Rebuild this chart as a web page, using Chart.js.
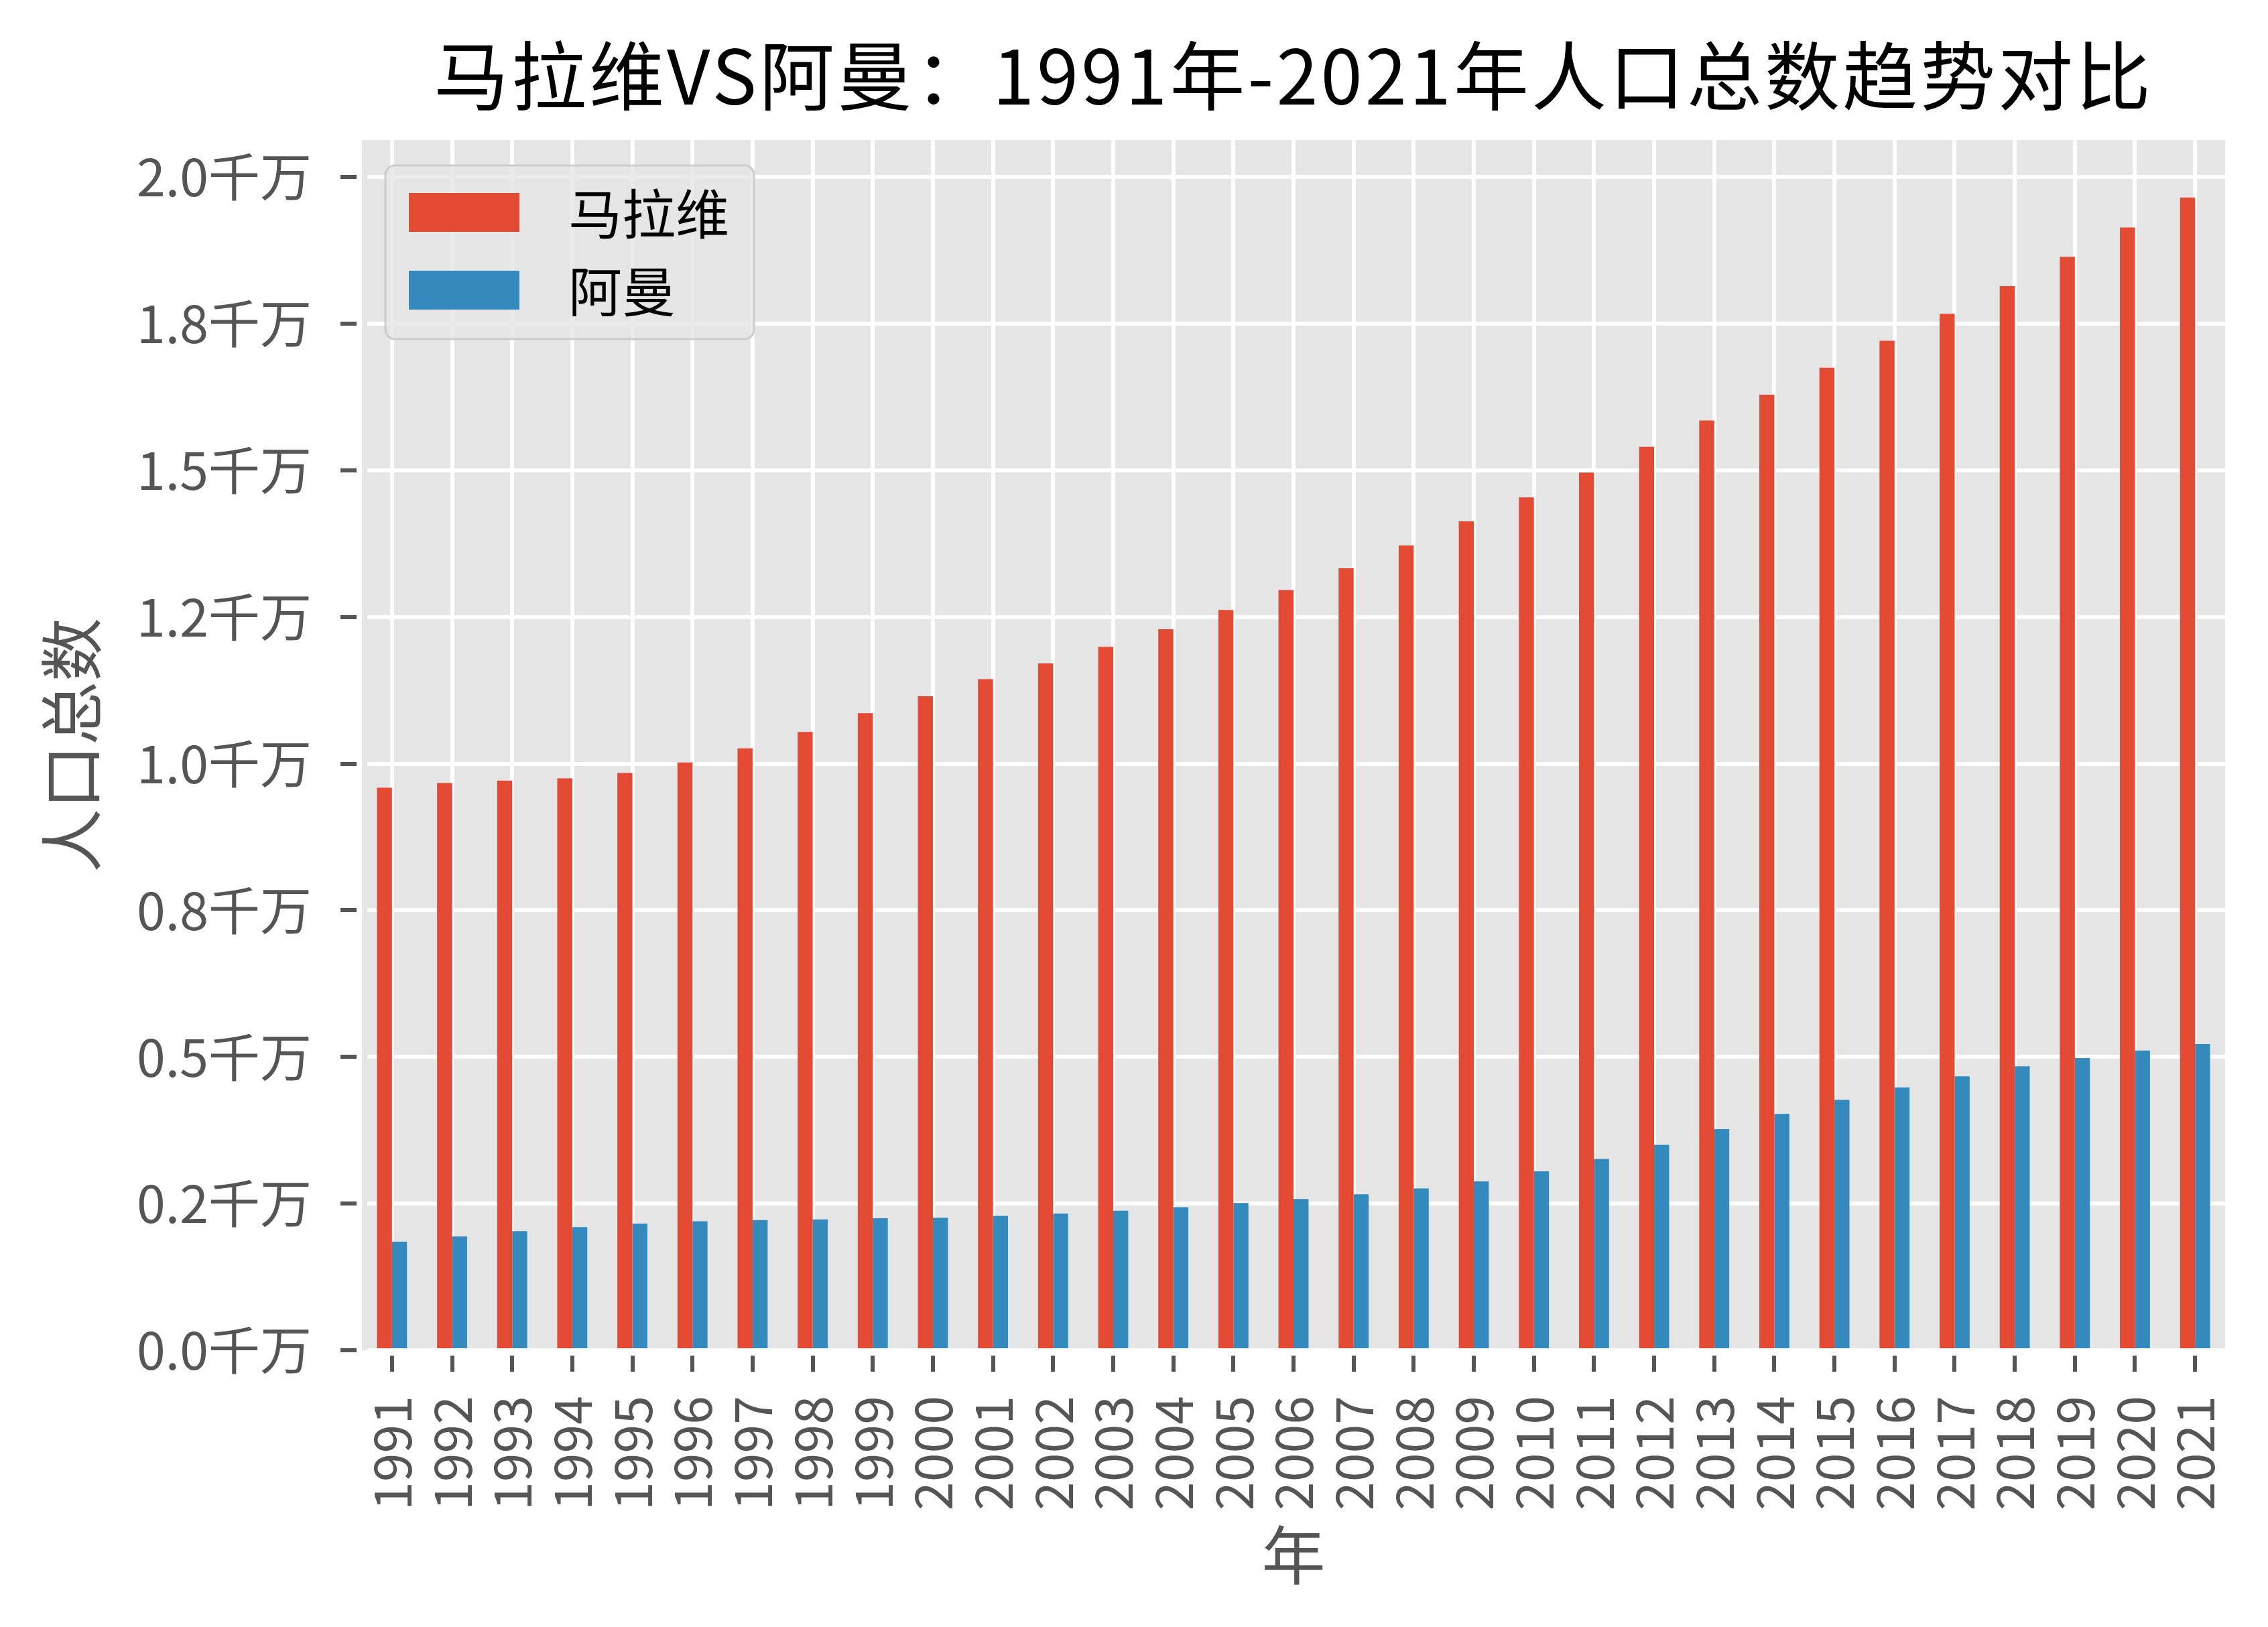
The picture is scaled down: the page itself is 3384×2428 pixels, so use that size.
<!DOCTYPE html>
<html>
<head>
<meta charset="utf-8">
<script src="https://cdn.jsdelivr.net/npm/chart.js@4.4.1/dist/chart.umd.min.js"></script>
<style>
  html, body { margin: 0; padding: 0; background: #ffffff; }
  canvas { display: block; }
</style>
</head>
<body>
<canvas id="c" width="3384" height="2428"></canvas>
<script>
  // data, unit: 千万
  var years = ['1991','1992','1993','1994','1995','1996','1997','1998','1999','2000',
               '2001','2002','2003','2004','2005','2006','2007','2008','2009','2010',
               '2011','2012','2013','2014','2015','2016','2017','2018','2019','2020','2021'];

  var malawi = [0.959, 0.967, 0.971, 0.975, 0.984, 1.002, 1.026, 1.054, 1.086, 1.115,
                1.144, 1.171, 1.199, 1.229, 1.262, 1.296, 1.333, 1.372, 1.413, 1.454,
                1.496, 1.540, 1.585, 1.629, 1.675, 1.721, 1.767, 1.814, 1.864, 1.914, 1.965];

  var oman = [0.185, 0.194, 0.203, 0.210, 0.216, 0.220, 0.222, 0.223, 0.225, 0.226,
              0.229, 0.233, 0.238, 0.244, 0.251, 0.258, 0.266, 0.276, 0.288, 0.305,
              0.326, 0.350, 0.377, 0.403, 0.427, 0.448, 0.467, 0.484, 0.498, 0.511, 0.522];

  var seriesNames = ['马拉维', '阿曼'];
  var yTickLabels = ['0.0千万','0.2千万','0.5千万','0.8千万','1.0千万','1.2千万','1.5千万','1.8千万','2.0千万'];
  var titleText = '马拉维VS阿曼：1991年-2021年人口总数趋势对比';

  var FONT = '"Noto Sans CJK SC", "Noto Sans", sans-serif';

  //grey panel behind the bars
  var panelBg = {
    id: 'panelBg',
    beforeDraw: function(chart) {
      var a = chart.chartArea, ctx = chart.ctx;
      ctx.save();
      ctx.fillStyle = '#E5E5E5';
      ctx.fillRect(a.left, a.top, a.right - a.left, a.bottom - a.top);
      ctx.restore();
    }
  };

  //title centred over the plot area + legend box inside it
  var extras = {
    id: 'extras',
    afterDraw: function(chart) {
      var a = chart.chartArea, ctx = chart.ctx;
      ctx.save();
      ctx.fillStyle = '#000000';
      ctx.font = '112px ' + FONT;
      ctx.letterSpacing = '4px';
      ctx.textAlign = 'center';
      ctx.textBaseline = 'middle';
      ctx.fillText(titleText, (a.left + a.right) / 2, 113);
      ctx.letterSpacing = '0px';

      // legend
      var x = a.left + 35, y = a.top + 38, w = 550, h = 259, r = 14;
      ctx.beginPath();
      ctx.moveTo(x + r, y);
      ctx.arcTo(x + w, y, x + w, y + h, r);
      ctx.arcTo(x + w, y + h, x, y + h, r);
      ctx.arcTo(x, y + h, x, y, r);
      ctx.arcTo(x, y, x + w, y, r);
      ctx.closePath();
      ctx.fillStyle = 'rgba(229,229,229,0.8)';
      ctx.fill();
      ctx.lineWidth = 3;
      ctx.strokeStyle = '#cccccc';
      ctx.stroke();

      var ds = chart.data.datasets;
      ctx.font = '80px ' + FONT;
      ctx.textAlign = 'left';
      for (var i = 0; i < ds.length; i++) {
        var py = y + 41 + i * 116;
        ctx.fillStyle = ds[i].backgroundColor;
        ctx.fillRect(x + 35, py, 165, 58);
        ctx.fillStyle = '#000000';
        ctx.fillText(ds[i].label, x + 273, py + 31);
      }
      ctx.restore();
    }
  };

  document.addEventListener('DOMContentLoaded', function() {
    var ctx = document.getElementById('c').getContext('2d');
    new Chart(ctx, {
      type: 'bar',
      data: {
        labels: years,
        datasets: [{
          label: seriesNames[0],
          data: malawi,
          backgroundColor: '#E24A33',
          borderWidth: 0
        }, {
          label: seriesNames[1],
          data: oman,
          backgroundColor: '#348ABD',
          borderWidth: 0
        }]
      },
      options: {
        responsive: false,
        animation: false,
        devicePixelRatio: 1,
        categoryPercentage: 0.5,
        barPercentage: 1.0,
        layout: {
          padding: { top: 209, right: 64, left: 0, bottom: 0 }
        },
        plugins: {
          legend: { display: false },
          title: { display: false },
          tooltip: { enabled: false }
        },
        scales: {
          x: {
            afterFit: function(scale) {
              scale.height = 413;
              scale.paddingLeft = 0;
              scale.paddingRight = 0;
            },
            grid: {
              offset: false,
              color: '#ffffff',
              lineWidth: 6,
              tickColor: '#555555',
              tickWidth: 6,
              tickLength: 32
            },
            border: { display: true, color: 'rgba(0,0,0,0)', width: 16 },
            ticks: {
              autoSkip: false,
              minRotation: 90,
              maxRotation: 90,
              padding: 36,
              color: '#555555',
              font: { family: FONT, size: 77 }
            },
            title: {
              display: true,
              text: '年',
              color: '#555555',
              padding: { top: 0, bottom: 50 },
              font: { family: FONT, size: 95 }
            }
          },
          y: {
            min: 0,
            max: 2.063,
            afterFit: function(scale) {
              scale.width = 540;
              scale.paddingTop = 0;
              scale.paddingBottom = 0;
            },
            grid: {
              color: '#ffffff',
              lineWidth: 6,
              tickColor: '#555555',
              tickWidth: 6,
              tickLength: 32
            },
            border: { display: true, color: 'rgba(0,0,0,0)', width: 16 },
            ticks: {
              stepSize: 0.25,
              includeBounds: false,
              padding: 43,
              color: '#555555',
              font: { family: FONT, size: 77 },
              callback: function(value) {
                return yTickLabels[Math.round(value / 0.25)];
              }
            },
            title: {
              display: true,
              text: '人口总数',
              color: '#555555',
              padding: { top: 50, bottom: 0 },
              font: { family: FONT, size: 95 }
            }
          }
        }
      },
      plugins: [panelBg, extras]
    });
  });
</script>
</body>
</html>
